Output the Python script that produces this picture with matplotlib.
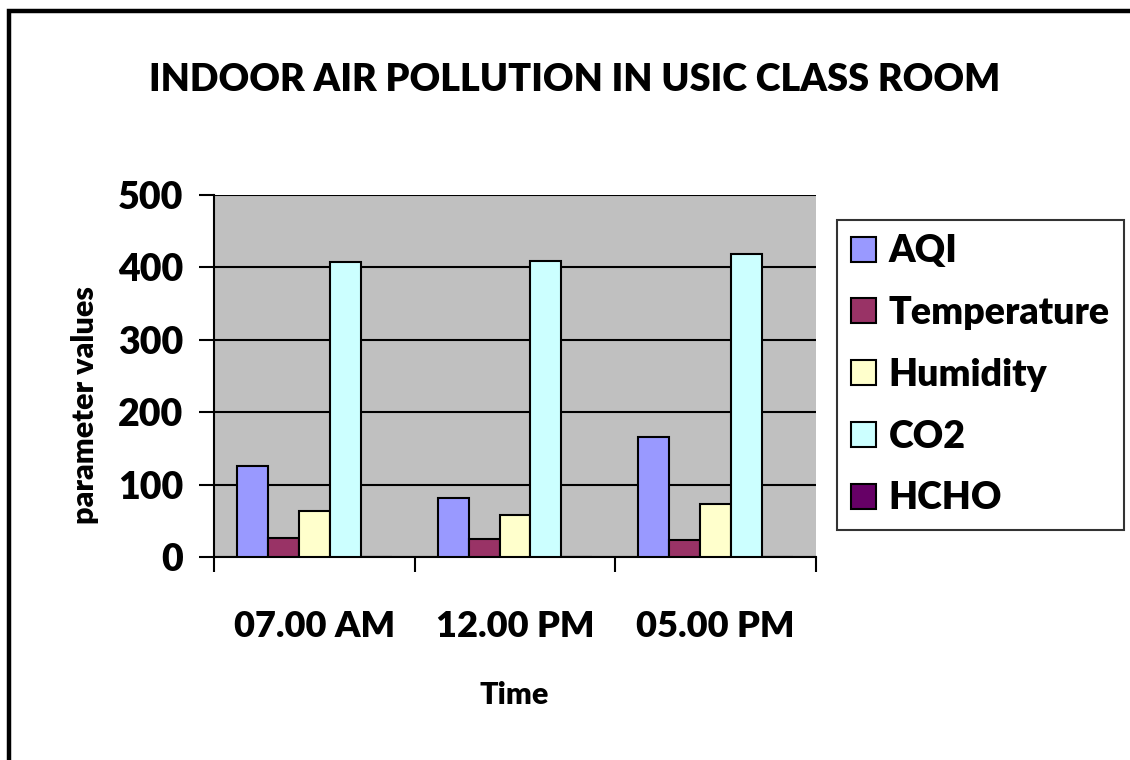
import numpy as np
import matplotlib
matplotlib.use('Agg')
import matplotlib.pyplot as plt
from matplotlib.lines import Line2D

plt.rcParams.update({
    'font.family': ['Lato', 'DejaVu Sans'],
    'font.weight': 'heavy',
    'axes.unicode_minus': False,
})

# 数据
times = ['07.00 AM', '12.00 PM', '05.00 PM']
series = ['AQI', 'Temperature', 'Humidity', 'CO2', 'HCHO']
aqi = [126, 81, 166]
temperature = [26, 25, 23]
humidity = [64, 58, 73]
co2 = [408, 409, 419]
hcho = [0, 0, 0]
values = [aqi, temperature, humidity, co2, hcho]
colors = ['#9999FF', '#993366', '#FFFFCC', '#CCFFFF', '#660066']

W, H = 1130, 760
fig = plt.figure(figsize=(W / 100, H / 100), dpi=100)

# 外框（左、上）
fig.add_artist(Line2D([9 / W, 9 / W, 1.0], [0.0, 1 - 11 / H, 1 - 11 / H],
                      transform=fig.transFigure, color='black', lw=3.2,
                      solid_joinstyle='miter'))

ax = fig.add_axes([214 / W, 1 - 557 / H, (816 - 214) / W, (557 - 195) / H])
ax.set_facecolor('#C0C0C0')

x = np.arange(len(times))
w = 1 / 6.5
for i, (name, vals, c) in enumerate(zip(series, values, colors)):
    ax.bar(x + (i - 2) * w, vals, width=w, color=c, edgecolor='black',
           linewidth=1.5, label=name, zorder=3)

ax.set_xlim(-0.5, 2.5)
ax.set_ylim(0, 500)
ax.set_yticks(np.arange(0, 501, 100))
ax.yaxis.grid(True, color='black', linewidth=1.5, zorder=1)
ax.set_axisbelow(True)

ax.set_xticks([-0.5, 0.5, 1.5, 2.5])
ax.set_xticklabels([])
ax.set_xticks(x, minor=True)
ax.set_xticklabels(times, minor=True, fontsize=26)
ax.tick_params(axis='x', which='major', direction='out', length=11, width=1.5)
ax.tick_params(axis='x', which='minor', length=0, pad=38)
ax.tick_params(axis='y', direction='out', length=11, width=1.5, labelsize=27, pad=11)

for s in ['top', 'right']:
    ax.spines[s].set_visible(False)
ax.spines['left'].set_linewidth(1.5)
ax.spines['bottom'].set_linewidth(1.5)

fig.text(575 / W, 1 - 80 / H, 'INDOOR AIR POLLUTION IN USIC CLASS ROOM',
         ha='center', va='center', fontsize=27.2)
fig.text(514 / W, 1 - 695 / H, 'Time', ha='center', va='center', fontsize=22)
fig.text(85 / W, 1 - 405 / H, 'parameter values', ha='center', va='center',
         rotation=90, fontsize=22)

leg = fig.legend(loc='upper left', bbox_to_anchor=(837 / W, 1 - 220 / H),
                 fontsize=27, frameon=True, fancybox=False, edgecolor='black',
                 handlelength=0.65, handleheight=0.65, handletextpad=0.35,
                 labelspacing=0.74, borderpad=0.38, borderaxespad=0)
leg.get_frame().set_linewidth(1.5)

fig.savefig('out.png', dpi=100)
plt.close(fig)
